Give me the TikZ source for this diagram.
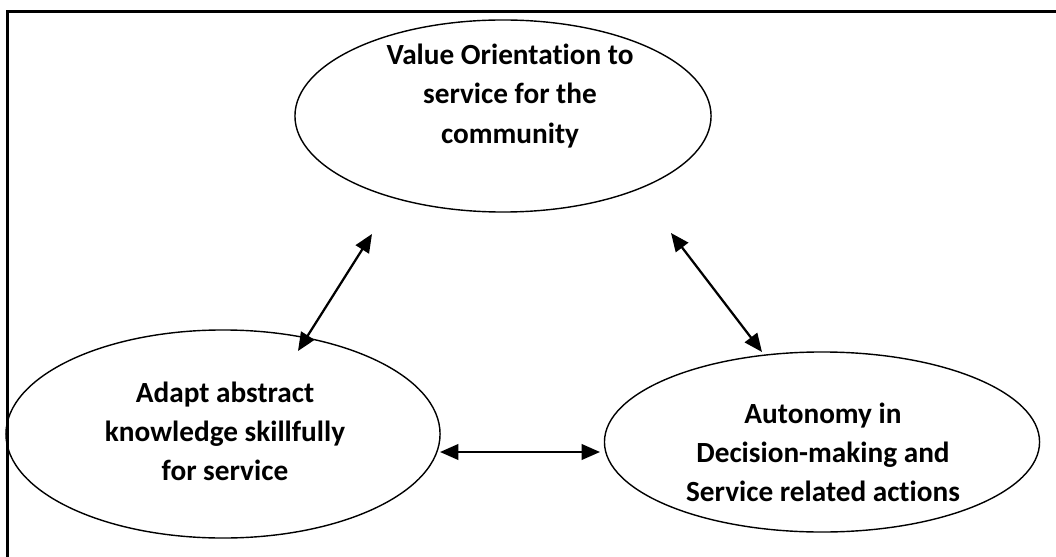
\documentclass[tikz,border=0pt]{standalone}
\usepackage{fontspec}
\setmainfont[Ligatures=NoCommon]{Carlito}
\usetikzlibrary{shapes.geometric,arrows.meta}

\tikzset{
	oval/.style={draw, ellipse, line width=1pt, inner sep=0pt, outer sep=0pt},
	caption/.style={align=center, font=\fontsize{20.8}{27.8}\selectfont\bfseries},
	link/.style={{Triangle[length=13pt,width=11pt]}-{Triangle[length=13pt,width=11pt]}, line width=1.6pt}
}

\begin{document}
\begin{tikzpicture}[x=0.025cm, y=-0.025cm]
			\useasboundingbox (0,0) rectangle (1056,557);
			% frame
			\draw[line width=1.5pt] (7.5,557) -- (7.5,11.5) -- (1056,11.5);
			% ovals
			\node[oval, minimum width=10.4cm, minimum height=4.8cm] (value) at (503,116) {};
			\node[oval, minimum width=10.85cm, minimum height=5.2cm] (adapt) at (223,434) {};
			\node[oval, minimum width=10.875cm, minimum height=4.5cm] (autonomy) at (822,442) {};
			% texts
			\node[caption] (valuetext) at (510,96) {Value Orientation to\\service for the\\community};
			\node[caption] (adapttext) at (225,431) {Adapt abstract\\knowledge skillfully\\for service};
			\node[caption] (autonomytext) at (823,452) {Autonomy in\\Decision-making and\\Service related actions};
			% arrow ends
			\coordinate (va) at (372,234);
			\coordinate (av) at (298,351);
			\coordinate (vu) at (671,233);
			\coordinate (uv) at (762,352);
			\coordinate (au) at (440,452);
			\coordinate (ua) at (600,452);
			% links
			\draw[link] (va) -- (av);
			\draw[link] (vu) -- (uv);
			\draw[link] (au) -- (ua);
\end{tikzpicture}
\end{document}
